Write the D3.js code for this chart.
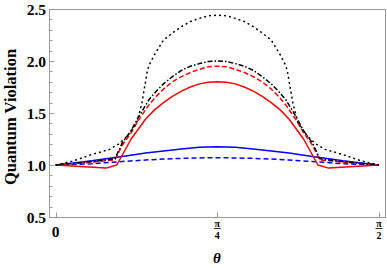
<!DOCTYPE html>
<html><head><meta charset="utf-8">
<script src="https://cdn.jsdelivr.net/npm/d3@7"></script>
<style>body{margin:0;background:#fff}svg{display:block}</style>
</head><body>
<svg id="c" width="387" height="268"></svg>
<script>
// θ in degrees (0..90 ↔ 0..π/2)
const dottedTheta = [0,5,10,15,17.5,20,22.5,23,24,25.5,26,27.5,30,32.5,35,37.5,40,42.5,45,47.5,50,52.5,55,57.5,60,62.5,64,64.5,66,67,67.5,70,72.5,75,80,85,90];
const dottedVals  = [1.0,1.04,1.10,1.15,1.20,1.28,1.40,1.46,1.60,1.90,1.96,2.06,2.20,2.27,2.33,2.38,2.41,2.435,2.44,2.435,2.41,2.38,2.33,2.27,2.20,2.06,1.96,1.90,1.60,1.46,1.40,1.28,1.20,1.15,1.10,1.04,1.0];

const dashDotTheta = [0,8,12,16.5,18.5,21,23,26,28,30,32.5,35,37.5,40,42.5,45,47.5,50,52.5,55,57.5,60,62,64,67,69,71.5,73.5,78,82,90];
const dashDotVals  = [1.0,1.025,1.04,1.06,1.21,1.33,1.46,1.63,1.71,1.78,1.85,1.91,1.95,1.975,1.995,2.0,1.995,1.975,1.95,1.91,1.85,1.78,1.71,1.63,1.46,1.33,1.21,1.06,1.04,1.025,1.0];

const redDashTheta = [0,8,12,16.5,18.5,21,23,26,28,30,32.5,35,37.5,40,42.5,45,47.5,50,52.5,55,57.5,60,62,64,67,69,71.5,73.5,78,82,90];
const redDashVals  = [1.0,1.02,1.035,1.05,1.19,1.31,1.43,1.58,1.66,1.73,1.80,1.85,1.89,1.92,1.945,1.95,1.945,1.92,1.89,1.85,1.80,1.73,1.66,1.58,1.43,1.31,1.19,1.05,1.035,1.02,1.0];

const redSolidTheta = [0,7,14,17,21,25,27.5,30,32.5,35,37.5,40,42.5,45,47.5,50,52.5,55,57.5,60,62.5,65,69,73,76,83,90];
const redSolidVals  = [1.0,0.985,0.97,1.0,1.25,1.44,1.53,1.60,1.66,1.71,1.75,1.78,1.795,1.80,1.795,1.78,1.75,1.71,1.66,1.60,1.53,1.44,1.25,1.0,0.97,0.985,1.0];

const blueSolidTheta = [0,5,10,15,20,25,30,35,40,45,50,55,60,65,70,75,80,85,90];
const blueSolidVals  = [1.0,1.02,1.04,1.065,1.09,1.115,1.135,1.155,1.17,1.176,1.17,1.155,1.135,1.115,1.09,1.065,1.04,1.02,1.0];

const blueDashTheta = [0,5,10,15,20,25,30,35,40,45,50,55,60,65,70,75,80,85,90];
const blueDashVals  = [1.0,1.005,1.012,1.025,1.037,1.048,1.057,1.064,1.068,1.07,1.068,1.064,1.057,1.048,1.037,1.025,1.012,1.005,1.0];

const yTicks = [0.5,1.0,1.5,2.0,2.5];
const xTickVals = [0,45,90];
const xTickLabels = [["0"],["π","4"],["π","2"]];

const svg = d3.select("#c");
const L=49, R=385, T=9, B=217;
const x = d3.scaleLinear().domain([0,90]).range([55.7,379]);
const y = d3.scaleLinear().domain([0.5,2.5]).range([B,T]);

// frame
svg.append("rect").attr("x",L+0.5).attr("y",T+0.5).attr("width",R-L).attr("height",B-T)
  .attr("fill","none").attr("stroke","#9a9a9a").attr("stroke-width",1);

// y ticks (inward)
const minor = d3.range(5,26).map(d=>d/10);
svg.append("g").selectAll("line").data(minor).join("line")
  .attr("x1",L+0.5).attr("x2",d=>L+0.5+(yTicks.some(t=>Math.abs(t-d)<1e-6)?5:3))
  .attr("y1",d=>Math.round(y(d))+0.5).attr("y2",d=>Math.round(y(d))+0.5)
  .attr("stroke","#9a9a9a").attr("stroke-width",1);
svg.append("g").selectAll("text").data(yTicks).join("text")
  .attr("x",46).attr("y",d=>y(d)+5.5).attr("text-anchor","end")
  .attr("font-family","Liberation Serif").attr("font-weight","bold").attr("font-size",15.5)
  .text(d=>d.toFixed(1));

// x ticks
svg.append("g").selectAll("line").data(xTickVals).join("line")
  .attr("x1",d=>Math.round(x(d))+0.5).attr("x2",d=>Math.round(x(d))+0.5)
  .attr("y1",B+0.5).attr("y2",B-4.5).attr("stroke","#9a9a9a");
xTickVals.forEach((v,i)=>{
  const lab = xTickLabels[i];
  const g = svg.append("g").attr("font-family","Liberation Serif").attr("font-weight","bold").attr("text-anchor","middle");
  if(lab.length===1){
    g.append("text").attr("x",x(v)).attr("y",237).attr("font-size",15.5).text(lab[0]);
  } else {
    g.append("text").attr("x",x(v)).attr("y",226.5).attr("font-size",10).text(lab[0]);
    g.append("line").attr("x1",x(v)-3.5).attr("x2",x(v)+3.5).attr("y1",228.5).attr("y2",228.5).attr("stroke","#000").attr("stroke-width",0.8);
    g.append("text").attr("x",x(v)).attr("y",238.5).attr("font-size",10).text(lab[1]);
  }
});

// axis labels
svg.append("text").attr("x",217).attr("y",263).attr("text-anchor","middle")
  .attr("font-family","Liberation Serif").attr("font-weight","bold").attr("font-style","italic")
  .attr("font-size",15).text("θ");
svg.append("text").attr("transform","translate(16,117) rotate(-90)").attr("text-anchor","middle")
  .attr("font-family","Liberation Serif").attr("font-weight","bold").attr("font-size",16.5)
  .text("Quantum Violation");

const line = d3.line().x(d=>x(d[0])).y(d=>y(d[1])).curve(d3.curveLinear);
const series = [
  {t:blueDashTheta, v:blueDashVals, c:"#0000ff", dash:"5,3"},
  {t:blueSolidTheta, v:blueSolidVals, c:"#0000ff", dash:null},
  {t:redSolidTheta, v:redSolidVals, c:"#ff0000", dash:null},
  {t:redDashTheta, v:redDashVals, c:"#ff0000", dash:"5,2.5"},
  {t:dashDotTheta, v:dashDotVals, c:"#000000", dash:"5,2,1.5,2"},
  {t:dottedTheta, v:dottedVals, c:"#000000", dash:"2,3"}
];
svg.append("clipPath").attr("id","pc").append("rect").attr("x",L).attr("y",T).attr("width",R-L).attr("height",B-T);
series.forEach(s=>{
  svg.append("path").datum(s.t.map((d,i)=>[d,s.v[i]]))
    .attr("d",line).attr("fill","none").attr("stroke",s.c).attr("stroke-width",1.5)
    .attr("stroke-linejoin","round").attr("stroke-dasharray",s.dash).attr("clip-path","url(#pc)");
});
</script>
</body></html>
